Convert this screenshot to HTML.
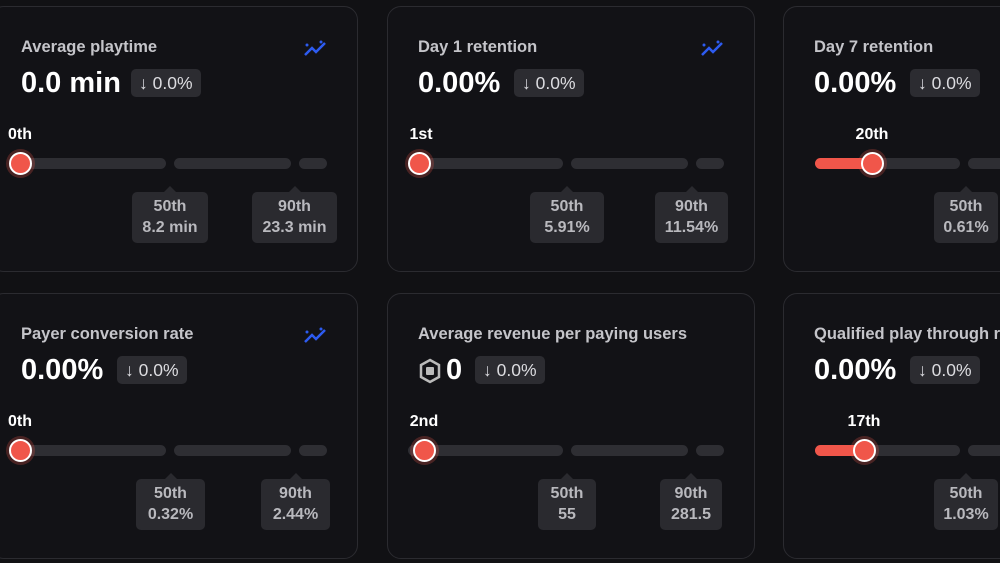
<!DOCTYPE html>
<html><head><meta charset="utf-8"><style>
body{margin:0;width:1000px;height:563px;background:#111114;overflow:hidden;font-family:"Liberation Sans",sans-serif;position:relative}
.card{position:absolute;width:366px;height:264px;border:1px solid #2b2b30;border-radius:14px;background:#121216}
.t{position:absolute;left:30px;top:31px;font-size:16.5px;font-weight:bold;color:#c4c4c9;white-space:nowrap}
.v{position:absolute;left:30px;top:60px;font-size:29px;font-weight:bold;color:#fff;white-space:nowrap}
.b{position:absolute;top:62px;height:28px;padding:0 8px;background:#2c2c31;border-radius:5px;color:#dcdce0;font-size:17.5px;line-height:28px;white-space:nowrap}
.seg{position:absolute;top:151px;height:11px;border-radius:6px;background:#2e2e33}
.fill{position:absolute;top:151px;height:11px;border-radius:6px;background:#f0564a}
.dot{position:absolute;top:145px;width:19px;height:19px;margin-left:-11px;border-radius:50%;background:#f0564a;border:2px solid #fff;box-shadow:0 0 0 3px rgba(240,86,74,.25)}
.pl{position:absolute;top:119px;width:60px;margin-left:-30px;text-align:center;font-size:16px;font-weight:bold;color:#fff}
.tip{position:absolute;top:185px;height:51px;background:#2a2a2f;border-radius:5px;color:#b9b9be;font-size:16px;font-weight:bold;text-align:center;line-height:21px;padding-top:4px;box-sizing:border-box}
.tip:before{content:"";position:absolute;left:50%;top:-6px;margin-left:-6px;border-left:6px solid transparent;border-right:6px solid transparent;border-bottom:6px solid #2a2a2f}
.ic{position:absolute;left:312px;top:32px}
</style></head><body>

<div class="card" style="left:-10px;top:6px">
<div class="t">Average playtime</div>
<svg class="ic" width="26" height="20" viewBox="0 0 26 20"><polyline points="2,16 9,9 13,13 22,4" fill="none" stroke="#2d5bf0" stroke-width="2.5"/><circle cx="4" cy="6" r="1.5" fill="#2d5bf0"/><circle cx="18" cy="3" r="1.5" fill="#2d5bf0"/></svg>
<div class="v">0.0 min</div><div class="b" style="left:140px">↓ 0.0%</div>
<div class="pl" style="left:29px">0th</div>
<div class="seg" style="left:20px;width:155px"></div><div class="seg" style="left:183px;width:117px"></div><div class="seg" style="left:308px;width:28px"></div>
<div class="dot" style="left:29px"></div>
<div class="tip" style="left:141px;width:76px">50th<br>8.2 min</div>
<div class="tip" style="left:261px;width:85px">90th<br>23.3 min</div>
</div>

<div class="card" style="left:387px;top:6px">
<div class="t">Day 1 retention</div>
<svg class="ic" width="26" height="20" viewBox="0 0 26 20"><polyline points="2,16 9,9 13,13 22,4" fill="none" stroke="#2d5bf0" stroke-width="2.5"/><circle cx="4" cy="6" r="1.5" fill="#2d5bf0"/><circle cx="18" cy="3" r="1.5" fill="#2d5bf0"/></svg>
<div class="v">0.00%</div><div class="b" style="left:126px">↓ 0.0%</div>
<div class="pl" style="left:33px">1st</div>
<div class="seg" style="left:20px;width:155px"></div><div class="seg" style="left:183px;width:117px"></div><div class="seg" style="left:308px;width:28px"></div>
<div class="dot" style="left:31px"></div>
<div class="tip" style="left:142px;width:74px">50th<br>5.91%</div>
<div class="tip" style="left:267px;width:73px">90th<br>11.54%</div>
</div>

<div class="card" style="left:783px;top:6px">
<div class="t">Day 7 retention</div>
<div class="v">0.00%</div><div class="b" style="left:126px">↓ 0.0%</div>
<div class="pl" style="left:88px">20th</div>
<div class="seg" style="left:31px;width:145px"></div><div class="fill" style="left:31px;width:60px"></div><div class="seg" style="left:184px;width:117px"></div>
<div class="dot" style="left:88px"></div>
<div class="tip" style="left:150px;width:64px">50th<br>0.61%</div>
</div>

<div class="card" style="left:-10px;top:293px">
<div class="t">Payer conversion rate</div>
<svg class="ic" width="26" height="20" viewBox="0 0 26 20"><polyline points="2,16 9,9 13,13 22,4" fill="none" stroke="#2d5bf0" stroke-width="2.5"/><circle cx="4" cy="6" r="1.5" fill="#2d5bf0"/><circle cx="18" cy="3" r="1.5" fill="#2d5bf0"/></svg>
<div class="v">0.00%</div><div class="b" style="left:126px">↓ 0.0%</div>
<div class="pl" style="left:29px">0th</div>
<div class="seg" style="left:20px;width:155px"></div><div class="seg" style="left:183px;width:117px"></div><div class="seg" style="left:308px;width:28px"></div>
<div class="dot" style="left:29px"></div>
<div class="tip" style="left:145px;width:69px">50th<br>0.32%</div>
<div class="tip" style="left:270px;width:69px">90th<br>2.44%</div>
</div>

<div class="card" style="left:387px;top:293px">
<div class="t">Average revenue per paying users</div>
<svg style="position:absolute;left:30px;top:64px" width="24" height="26" viewBox="0 0 24 26"><polygon points="12,2 21,7 21,19 12,24 3,19 3,7" fill="none" stroke="#bbb" stroke-width="2.5"/><rect x="8" y="9" width="8" height="8" rx="1" fill="#bbb"/></svg>
<div class="v" style="left:58px">0</div><div class="b" style="left:87px">↓ 0.0%</div>
<div class="pl" style="left:36px">2nd</div>
<div class="seg" style="left:20px;width:155px"></div><div class="seg" style="left:183px;width:117px"></div><div class="seg" style="left:308px;width:28px"></div>
<div class="dot" style="left:36px"></div>
<div class="tip" style="left:150px;width:58px">50th<br>55</div>
<div class="tip" style="left:272px;width:62px">90th<br>281.5</div>
</div>

<div class="card" style="left:783px;top:293px">
<div class="t">Qualified play through rate</div>
<div class="v">0.00%</div><div class="b" style="left:126px">↓ 0.0%</div>
<div class="pl" style="left:80px">17th</div>
<div class="seg" style="left:31px;width:145px"></div><div class="fill" style="left:31px;width:52px"></div><div class="seg" style="left:184px;width:117px"></div>
<div class="dot" style="left:80px"></div>
<div class="tip" style="left:150px;width:64px">50th<br>1.03%</div>
</div>

</body></html>
